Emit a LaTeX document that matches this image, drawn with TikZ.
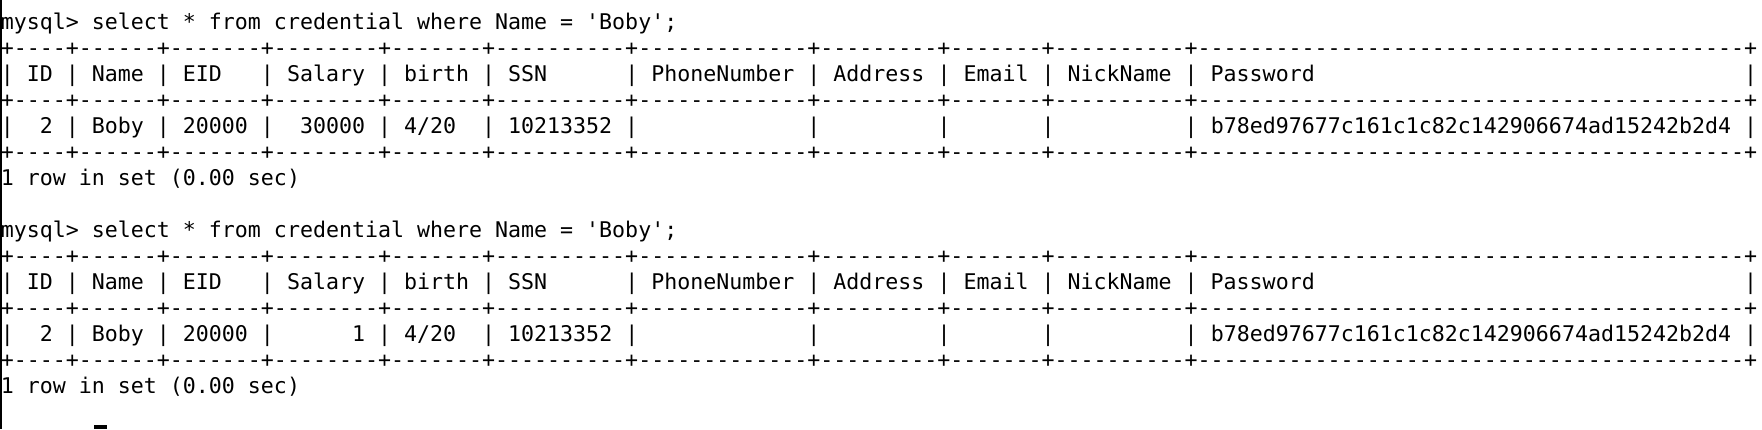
\documentclass[tikz,border=0pt]{standalone}
\usepackage{fontspec}
\setmonofont{DejaVu Sans Mono}
\ExplSyntaxOn
\cs_new:Npn \Rep #1#2 { \prg_replicate:nn {#1} {#2} }
\ExplSyntaxOff
\newcommand\Bd{+\Rep{4}{-}+\Rep{6}{-}+\Rep{7}{-}+\Rep{8}{-}+\Rep{7}{-}+\Rep{10}{-}+\Rep{13}{-}+\Rep{9}{-}+\Rep{7}{-}+\Rep{10}{-}+\Rep{42}{-}+}
\newcommand\Hd{|~ID~|~Name~|~EID\Rep{3}{~}|~Salary~|~birth~|~SSN\Rep{6}{~}|~PhoneNumber~|~Address~|~Email~|~NickName~|~Password\Rep{33}{~}|}
\newcommand\Query{mysql>~select~*~from~credential~where~Name~=~'Boby';}
\newcommand\Done{1~row~in~set~(0.00~sec)}
\newcommand\RowA{|\Rep{2}{~}2~|~Boby~|~20000~|\Rep{2}{~}30000~|~4/20\Rep{2}{~}|~10213352~|\Rep{13}{~}|\Rep{9}{~}|\Rep{7}{~}|\Rep{10}{~}|~b78ed97677c161c1c82c142906674ad15242b2d4~|}
\newcommand\RowB{|\Rep{2}{~}2~|~Boby~|~20000~|\Rep{6}{~}1~|~4/20\Rep{2}{~}|~10213352~|\Rep{13}{~}|\Rep{9}{~}|\Rep{7}{~}|\Rep{10}{~}|~b78ed97677c161c1c82c142906674ad15242b2d4~|}
\tikzset{termline/.style={inner sep=0pt, outer sep=0pt, anchor=base west,
  font=\ttfamily\fontsize{21.61pt}{26pt}\selectfont, text=black}}
\begin{document}
\begin{tikzpicture}[x=1pt,y=-1pt]
\useasboundingbox (0,0) rectangle (1762,429);
\fill[white] (0,0) rectangle (1762,429);
\fill[black] (0,0) rectangle (1.8,429);
\node[termline] (l0)  at (0.8,29)  {\Query};
\node[termline] (l1)  at (0.8,55)  {\Bd};
\node[termline] (l2)  at (0.8,81)  {\Hd};
\node[termline] (l3)  at (0.8,107) {\Bd};
\node[termline] (l4)  at (0.8,133) {\RowA};
\node[termline] (l5)  at (0.8,159) {\Bd};
\node[termline] (l6)  at (0.8,185) {\Done};
\node[termline] (l8)  at (0.8,237) {\Query};
\node[termline] (l9)  at (0.8,263) {\Bd};
\node[termline] (l10) at (0.8,289) {\Hd};
\node[termline] (l11) at (0.8,315) {\Bd};
\node[termline] (l12) at (0.8,341) {\RowB};
\node[termline] (l13) at (0.8,367) {\Bd};
\node[termline] (l14) at (0.8,393) {\Done};
\fill[black] (94.3,425) rectangle (107,429);
\end{tikzpicture}
\end{document}
